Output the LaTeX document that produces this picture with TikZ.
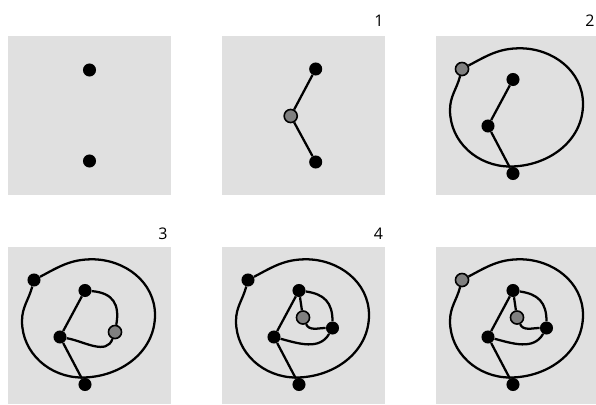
\documentclass[tikz,border=0pt]{standalone}
\usepackage{fontspec}
\setmainfont{Open Sans}
\definecolor{panel}{HTML}{E0E0E0}
\begin{document}
\begin{tikzpicture}[x=0.75pt, y=0.75pt, every node/.style={font=\fontsize{12}{14}\selectfont},
    dot/.style={circle, fill=black, inner sep=0pt, minimum size=9.8pt},
    gdot/.style={circle, draw, fill=gray, line width=1.2pt, inner sep=0pt, minimum size=9.8pt},
    ln/.style={line width=1.7pt}]
\useasboundingbox (0,0) rectangle (596,-404);
% riquadri
\foreach \x/\y/\w/\h in {8/36/163/159, 222/36/163/159, 436/36/160/159, 8/247/163/157, 222/247/163/157, 436/247/160/157} {
    \fill[panel] (\x,-\y) rectangle ++(\w,-\h);
}
% numeri
\node (l1) at (379,-20.5) {1};
\node (l2) at (590,-20.5) {2};
\node (l3) at (163,-234) {3};
\node (l4) at (378.5,-234) {4};
% (a) due punti
\begin{scope}[shift={(8,-36)}]
    \node[dot] (ta) at (81.5,-34) {};
    \node[dot] (ba) at (81.5,-125) {};
\end{scope}
% (b) primo taglio
\begin{scope}[shift={(222,-36)}]
    \node[dot] (tb) at (93.7,-33) {};
    \node[gdot] (mb) at (68.7,-80) {};
    \node[dot] (bb) at (93.7,-126) {};
\end{scope}
\draw[ln] (tb)--(mb)--(bb);
% albero e anello esterno
\foreach \p/\x/\y/\os in {c/436/36/gdot, d/8/247/dot, e/222/247/dot, f/436/247/gdot} {
    \begin{scope}[shift={(\x,-\y)}]
        \node[\os] (o\p) at (26,-33) {};
        \node[dot] (t\p) at (77,-43.5) {};
        \node[dot] (m\p) at (52,-90) {};
        \node[dot] (b\p) at (77,-137.5) {};
        \draw[ln] (t\p)--(m\p)--(b\p);
        \draw[ln] (o\p) to[out=28,in=180] (84,-12.3) to[out=0,in=90] (147,-68)
            to[out=-90,in=0] (74,-130.5) to[out=180,in=-90] (14,-74) to[out=90,in=255] (o\p);
    \end{scope}
}
% (d)
\begin{scope}[shift={(8,-247)}]
    \node[gdot] (gd) at (107,-85) {};
\end{scope}
\draw[ln] (td) to[out=-5,in=80,looseness=1.3] (gd) to[out=-110,in=-10] (md);
% (e) e (f)
\foreach \p/\x/\y in {e/222/247, f/436/247} {
    \begin{scope}[shift={(\x,-\y)}]
        \node[gdot] (c\p) at (81,-70.5) {};
        \node[dot] (r\p) at (110.5,-81) {};
    \end{scope}
    \draw[ln] (t\p)--(c\p);
    \draw[ln] (t\p) to[out=-8,in=90,looseness=1.2] (r\p);
    \draw[ln] (c\p) to[out=-65,in=180] (r\p);
    \draw[ln] (m\p) to[out=-15,in=-120] (r\p);
}
\end{tikzpicture}
\end{document}
